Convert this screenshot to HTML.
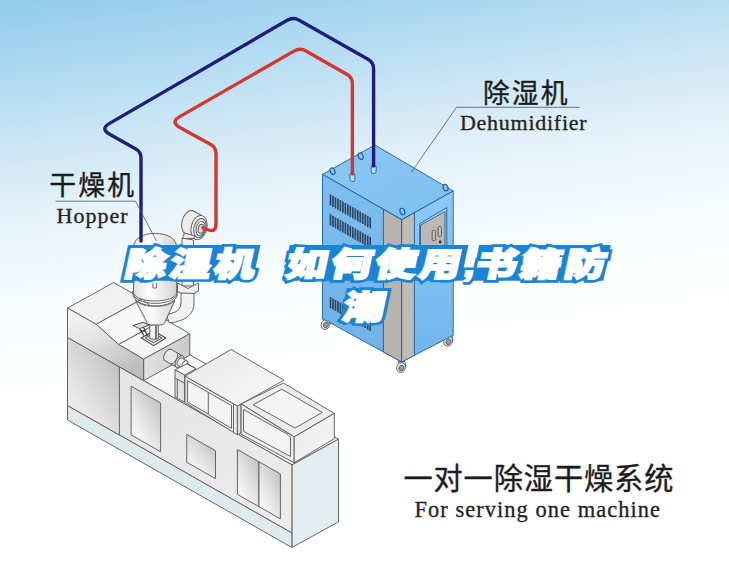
<!DOCTYPE html>
<html lang="zh-CN">
<head>
<meta charset="utf-8">
<title>除湿机 如何使用,书籍防潮</title>
<style>
html,body{margin:0;padding:0;background:#fff;}
body{width:729px;height:561px;overflow:hidden;position:relative;font-family:"Liberation Sans","Noto Sans CJK SC",sans-serif;}
svg{display:block;position:absolute;left:0;top:0;}
.cn{font-family:"Liberation Sans","Noto Sans CJK SC",sans-serif;fill:#1c1c1c;stroke:#1c1c1c;stroke-width:0.35px;}
.en{font-family:"Liberation Serif","Noto Serif CJK SC",serif;fill:#222;stroke:#222;stroke-width:0.3px;}
.ttl{font-family:"Liberation Sans","Noto Sans CJK SC",sans-serif;font-weight:900;fill:#1a85d5;stroke:#1a85d5;stroke-width:7.4px;stroke-linejoin:miter;stroke-miterlimit:1.5;}
.ttw{font-family:"Liberation Sans","Noto Sans CJK SC",sans-serif;font-weight:900;fill:#fff;stroke:#fff;stroke-width:2px;stroke-linejoin:miter;}
.ln{fill:none;stroke:#555;stroke-width:0.8;}
.o{stroke:#5e5e5e;stroke-width:0.95;stroke-linejoin:round;}
.ob{stroke:#1d5d92;stroke-width:0.9;stroke-linejoin:round;}
</style>
</head>
<body>
<svg width="729" height="561" viewBox="0 0 729 561">

<defs>
  <linearGradient id="bgv" gradientUnits="userSpaceOnUse" x1="0" y1="0" x2="54.4" y2="396.3">
    <stop offset="0" stop-color="#91cbeb"/>
    <stop offset="0.152" stop-color="#a8d7f0"/>
    <stop offset="0.352" stop-color="#c9e5f5"/>
    <stop offset="0.552" stop-color="#e6f3fa"/>
    <stop offset="0.776" stop-color="#f8fcfe"/>
    <stop offset="1" stop-color="#ffffff"/>
  </linearGradient>
  <linearGradient id="gHouse" x1="0" y1="0" x2="0.6" y2="1">
    <stop offset="0" stop-color="#f6f6f6"/><stop offset="0.45" stop-color="#e4e4e4"/><stop offset="1" stop-color="#bdbdbd"/>
  </linearGradient>
  <linearGradient id="gPanelL" x1="0.9" y1="0" x2="0.1" y2="1">
    <stop offset="0" stop-color="#b9b9b9"/><stop offset="0.5" stop-color="#dadada"/><stop offset="1" stop-color="#f7f7f7"/>
  </linearGradient>
  <linearGradient id="gLong" x1="0" y1="0" x2="1" y2="1">
    <stop offset="0" stop-color="#e3e3e3"/><stop offset="1" stop-color="#ececec"/>
  </linearGradient>
  <linearGradient id="gDoor" x1="0.85" y1="0" x2="0.15" y2="0.9">
    <stop offset="0" stop-color="#bcbcbc"/><stop offset="0.55" stop-color="#e2e2e2"/><stop offset="1" stop-color="#fbfbfb"/>
  </linearGradient>
  <linearGradient id="gTop" x1="0" y1="0" x2="1" y2="1">
    <stop offset="0" stop-color="#e9e9e9"/><stop offset="1" stop-color="#f8f8f8"/>
  </linearGradient>
  <linearGradient id="gEnd" x1="0" y1="0" x2="1" y2="0">
    <stop offset="0" stop-color="#e2e2e2"/><stop offset="1" stop-color="#c9c9c9"/>
  </linearGradient>
  <linearGradient id="gHop" x1="0" y1="0" x2="1" y2="0">
    <stop offset="0" stop-color="#e2e2e2"/><stop offset="0.35" stop-color="#ffffff"/><stop offset="1" stop-color="#d2d2d2"/>
  </linearGradient>
  <linearGradient id="dTop" x1="0" y1="0" x2="1" y2="1">
    <stop offset="0" stop-color="#8cc7f4"/><stop offset="1" stop-color="#7fbef0"/>
  </linearGradient>
  <linearGradient id="dLeft" x1="0" y1="0" x2="0" y2="1">
    <stop offset="0" stop-color="#7fbdf0"/><stop offset="1" stop-color="#70b1e7"/>
  </linearGradient>
  <linearGradient id="dRight" x1="0" y1="0" x2="0" y2="1">
    <stop offset="0" stop-color="#8fc9f6"/><stop offset="1" stop-color="#6fb5ec"/>
  </linearGradient>
</defs>
<rect x="0" y="0" width="729" height="561" fill="url(#bgv)"/>

<g id="machine" class="o">
<polygon points="67.5,337.4 114.1,311.8 338.5,439.2 291.9,464.9" fill="#f6f6f6"/>
<polygon points="291.9,547.5 338.5,521.8 338.5,439.2 291.9,464.9" fill="#e1edf0"/>
<polygon points="67.5,405.5 291.9,533.0 291.9,464.9 67.5,337.4" fill="url(#gLong)"/>
<polygon points="67.5,420.0 291.9,547.5 291.9,533.0 67.5,405.5" fill="#deeaed"/>
<polygon points="67.5,405.5 119.4,435.0 119.4,366.9 67.5,337.4" fill="url(#gPanelL)"/>
<polygon points="131.1,386.2 160.6,403.0 160.6,451.7 131.1,434.9" fill="url(#gDoor)"/>
<polygon points="186.8,434.4 215.5,450.7 215.5,478.6 186.8,462.3" fill="url(#gDoor)"/>
<polygon points="237.4,449.5 259.0,461.8 259.0,506.7 237.4,494.4" fill="url(#gDoor)"/>
<polygon points="259.0,461.8 280.4,473.9 280.4,518.8 259.0,506.7" fill="url(#gDoor)"/>
<polygon points="67.5,308.0 113.7,282.6 142.4,298.9 96.2,324.3" fill="#f1f1f1"/>
<polygon points="96.2,324.3 142.4,298.9 164.8,319.1 118.6,344.5" fill="#f7f7f7"/>
<polygon points="118.6,344.5 164.8,319.1 189.8,333.8 143.6,359.2" fill="#f4f4f4"/>
<polygon points="143.6,359.2 189.8,333.8 189.8,355.2 143.6,380.6" fill="url(#gEnd)"/>
<polygon points="67.5,308.0 96.2,324.3 118.6,344.5 143.6,359.2 143.6,380.6 67.5,337.4" fill="url(#gHouse)"/>
<ellipse cx="168.1" cy="355.1" rx="3.7" ry="6.4" transform="rotate(29.6 168.1 355.1)" fill="#e6e6e6"/>
<polygon points="171.3,349.5 182.8,356.0 176.4,367.2 164.9,360.7" fill="#e6e6e6" stroke="none"/>
<path d="M171.3 349.5 L182.8 356.0 M164.9 360.7 L176.4 367.2" fill="none"/>
<path d="M176.4 352.5 A3.7 6.4 29.6 0 1 170.1 363.6" fill="none"/>
<path d="M179.3 354.1 A3.7 6.4 29.6 0 1 173.0 365.2" fill="none"/>
<ellipse cx="179.6" cy="361.6" rx="3.7" ry="6.4" transform="rotate(29.6 179.6 361.6)" fill="#f2f2f2"/>
<ellipse cx="180.0" cy="361.8" rx="2.4" ry="4.2" transform="rotate(29.6 180.0 361.8)" fill="#f0f0f0"/>
<polygon points="182.1,358.1 186.9,360.8 182.7,368.2 177.9,365.5" fill="#f0f0f0" stroke="none"/>
<path d="M182.1 358.1 L186.9 360.8 M177.9 365.5 L182.7 368.2" fill="none"/>
<ellipse cx="184.8" cy="364.5" rx="2.4" ry="4.2" transform="rotate(29.6 184.8 364.5)" fill="#fbfbfb"/>
<path d="M186.5 363.2 L195.5 368.3 M185.5 366.5 L193.5 371" fill="none"/>
<polygon points="175.0,369.8 186.8,363.9 196.1,368.8 184.5,375.0" fill="#f5f5f5"/>
<polygon points="175.0,369.8 184.5,375.0 184.5,402.2 175.0,397.0" fill="#e2e2e2"/>
<path d="M175 378 L184.5 383.2 M177.3 379.5 V398.2" fill="none"/>
<polygon points="184.9,376.2 231.1,349.5 284.0,380.2 237.4,406.1" fill="url(#gTop)"/>
<polygon points="184.9,376.2 237.4,406.1 237.4,434.8 184.9,402.4" fill="#ededed"/>
<polygon points="237.4,406.1 241.0,404.2 241.0,433.0 237.4,434.8" fill="#e2e2e2"/>
<path d="M187.4 380.5 L208.3 392.4 V414 L187.4 402 Z M208.3 392.4 L231.5 405.6 V428.5 L208.3 414.5" fill="#f4f4f4"/>
<path d="M233.5 404.2 V432.3" fill="none"/>
<polygon points="241.1,403.9 283.5,383.0 334.3,413.4 294.2,436.9" fill="#ebebeb"/>
<polygon points="253.2,404.8 281.7,389.2 322.2,412.4 295.1,428.0" fill="#f5f5f5"/>
<polygon points="241.1,403.9 294.2,436.9 294.2,462.7 241.1,434.2" fill="#ececec"/>
<polygon points="294.2,436.9 334.3,413.4 334.3,438.7 294.2,462.7" fill="url(#gTop)"/>
<path d="M243.5 409.5 L288 434.5 Q290.5 436 290.5 439 V456.5 L243.5 431.3 Z" fill="#f3f3f3"/>
</g>
<g id="dehum" class="ob">
<g stroke="#555" stroke-width="0.8"><path d="M325.5 324.5 l-3 -6 h7 l1 5 z" fill="#ddd"/><ellipse cx="325.5" cy="324.5" rx="4.3" ry="5" transform="rotate(25 325.5 324.5)" fill="#f2f2f2"/><ellipse cx="326.0" cy="324.8" rx="2.4" ry="3" transform="rotate(25 325.5 324.5)" fill="#999"/></g>
<g stroke="#555" stroke-width="0.8"><path d="M448.1 341.3 l-3 -6 h7 l1 5 z" fill="#ddd"/><ellipse cx="448.1" cy="341.3" rx="4.3" ry="5" transform="rotate(25 448.1 341.3)" fill="#f2f2f2"/><ellipse cx="448.6" cy="341.6" rx="2.4" ry="3" transform="rotate(25 448.1 341.3)" fill="#999"/></g>
<g stroke="#555" stroke-width="0.8"><path d="M401.0 367.6 l-3 -6 h7 l1 5 z" fill="#ddd"/><ellipse cx="401.0" cy="367.6" rx="4.3" ry="5" transform="rotate(25 401.0 367.6)" fill="#f2f2f2"/><ellipse cx="401.5" cy="367.9" rx="2.4" ry="3" transform="rotate(25 401.0 367.6)" fill="#999"/></g>
<polygon points="322.5,174.4 374.9,145.0 453.2,191.0 401.7,219.8" fill="url(#dTop)"/>
<polygon points="322.5,174.4 401.7,219.8 401.7,362.0 322.5,318.6" fill="url(#dLeft)"/>
<polygon points="401.7,219.8 453.2,191.0 453.2,335.2 401.7,362.0" fill="url(#dRight)"/>
<polygon points="383.4,209.3 401.7,219.8 401.7,362.0 383.4,352.0" fill="#b7b3af"/>
<polygon points="401.7,219.8 414.4,212.7 414.4,355.4 401.7,362.0" fill="#bfbbb7"/>
<polygon points="419.7,223.7 446.8,207.5 446.8,254.8 419.7,272.0" fill="#a9d4f5"/>
<polygon points="420.5,225.2 445.0,211.5 445.0,255.9 420.5,271.0" fill="#bcb8b4"/>
<rect x="432.2" y="230.5" width="3.2" height="10" rx="1" fill="#c9c5c1" stroke="#444" stroke-width="0.8"/>
<rect x="438.2" y="226.5" width="3.2" height="10" rx="1" fill="#c9c5c1" stroke="#444" stroke-width="0.8"/>
<circle cx="440.2" cy="242" r="1.4" fill="#333" stroke="none"/>
<path d="M330.50 194.40 v11.2 M332.98 195.82 v11.2 M335.46 197.24 v11.2 M337.94 198.66 v11.2 M340.42 200.09 v11.2 M342.90 201.51 v11.2 M345.38 202.93 v11.2 M347.86 204.35 v11.2 M350.34 205.77 v11.2 M352.82 207.19 v11.2 M355.30 208.62 v11.2 M357.78 210.04 v11.2 M360.26 211.46 v11.2 M362.74 212.88 v11.2 M365.22 214.30 v11.2 M367.70 215.72 v11.2 M370.18 217.15 v11.2" stroke="#2f4864" stroke-width="1.7" fill="none"/>
<path d="M330.50 214.30 v11.2 M332.98 215.72 v11.2 M335.46 217.14 v11.2 M337.94 218.56 v11.2 M340.42 219.99 v11.2 M342.90 221.41 v11.2 M345.38 222.83 v11.2 M347.86 224.25 v11.2 M350.34 225.67 v11.2 M352.82 227.09 v11.2 M355.30 228.52 v11.2 M357.78 229.94 v11.2 M360.26 231.36 v11.2 M362.74 232.78 v11.2 M365.22 234.20 v11.2 M367.70 235.62 v11.2 M370.18 237.05 v11.2" stroke="#2f4864" stroke-width="1.7" fill="none"/>
<path d="M330.50 297.00 v11.2 M332.98 298.42 v11.2 M335.46 299.84 v11.2 M337.94 301.26 v11.2 M340.42 302.69 v11.2 M342.90 304.11 v11.2 M345.38 305.53 v11.2 M347.86 306.95 v11.2 M350.34 308.37 v11.2 M352.82 309.79 v11.2 M355.30 311.22 v11.2 M357.78 312.64 v11.2 M360.26 314.06 v11.2 M362.74 315.48 v11.2 M365.22 316.90 v11.2 M367.70 318.32 v11.2 M370.18 319.75 v11.2" stroke="#2f4864" stroke-width="1.7" fill="none"/>
<ellipse cx="332.5" cy="171.2" rx="2.3" ry="3.4" transform="rotate(-20 332.5 171.2)" fill="#8cc4f1" stroke-width="1.2"/>
<ellipse cx="360.7" cy="156.2" rx="2.3" ry="3.4" transform="rotate(-20 360.7 156.2)" fill="#8cc4f1" stroke-width="1.2"/>
<ellipse cx="445.6" cy="187.6" rx="2.3" ry="3.4" transform="rotate(-20 445.6 187.6)" fill="#8cc4f1" stroke-width="1.2"/>
<ellipse cx="402.4" cy="211.6" rx="2.3" ry="3.4" transform="rotate(-20 402.4 211.6)" fill="#8cc4f1" stroke-width="1.2"/>
<rect x="349.9" y="173" width="5" height="8.5" rx="2" fill="#b9ddf8" stroke-width="0.9"/>
<rect x="371.1" y="165" width="5" height="8.5" rx="2" fill="#b9ddf8" stroke-width="0.9"/>
</g>
<g id="hopper" class="o">
<path d="M182 238 V286 H193.5 V240 Z" fill="#f0f0f0"/>
<path d="M177.5 283 L188 288.5 L198.5 283 V291 L188 297 L177.5 291.5 Z" fill="#ececec"/>
<path d="M181 293 V303 Q181 311 171 313.5 L166 314.5 L169.5 323 Q194 320 194 303 V293.5 Z" fill="#f2f2f2"/>
<g transform="rotate(14 195 225)"><ellipse cx="189.5" cy="224" rx="8" ry="12.3" fill="#ececec"/><path d="M189.5 211.7 L199.5 214.2 V238.8 L189.5 236.3 Z" fill="#ececec" stroke="none"/><path d="M189.5 211.7 L199.5 214.2 M189.5 236.3 L199.5 238.8" fill="none"/><ellipse cx="199.5" cy="226.5" rx="7.8" ry="12.3" fill="#f1f1f1"/><ellipse cx="200.5" cy="226.8" rx="6" ry="9.8" fill="#e6e6e6"/><ellipse cx="201.3" cy="227" rx="4.4" ry="7.2" fill="#f3f3f3"/><ellipse cx="201.8" cy="227.2" rx="2.8" ry="4.6" fill="#e3d6d6"/></g>
<path d="M184.5 233 L182.5 238.5 H193.5 L195 236 Z" fill="#ececec"/>
<path d="M133.6 247 C133.6 238 144 233.4 155.2 233.4 C166.5 233.4 176.7 238 176.7 247 V292 C176.7 297.5 167 301 155.2 301 C143.3 301 133.6 297.5 133.6 292 Z" fill="url(#gHop)"/>
<path d="M132.4 291 C132.4 298.5 142 303.4 155.2 303.4 C168.4 303.4 177.9 298.5 177.9 291" fill="none"/>
<path d="M133 294.5 C134 301 143 306 155.2 306 C167.4 306 176.4 301 177.4 294.5" fill="none"/>
<path d="M135.5 300.3 C140 304.8 147 306.3 155.2 306.3 C163.4 306.3 170.5 304.8 175 300.3 L164.4 323.3 C162 326 149 326 147.4 323.3 Z" fill="url(#gHop)"/>
<path d="M153 283 V288 H156.4 V283" fill="#fff"/>
<polygon points="141.3,338 153.6,331 166,338 153.6,345.6" fill="#f0f0f0" stroke="#444" stroke-width="1.1"/>
<polygon points="145.2,338 153.6,333.2 162,338 153.6,342.8" fill="#d8d8d8" stroke="#444"/>
<path d="M149.8 325.2 V338.4 Q154 340.6 158.3 338.4 V325.2 Z" fill="#f4f4f4"/>
<path d="M156 326 V339" stroke="#555" stroke-width="1.6" fill="none"/>
<path d="M133 325.5 L143 322.3 L149.5 325 L139.5 328.6 Z" fill="#dedede" stroke="#444"/>
<path d="M139.5 328.6 L144 335.5 M143.5 327.2 L147.5 336 M141 330.5 L146 331.5" fill="none" stroke="#333" stroke-width="1.1"/>
</g>
<g id="pipes" fill="none" stroke-linecap="round" stroke-linejoin="round">
  <path d="M141 241 V158 Q141 152 135.8 149.1 L109.7 134.3 Q100.1 128.9 109.6 123.4 L287.2 20.3 Q293.2 16.8 299.2 20.2 L368.4 59.6 Q373.6 62.6 373.6 68.6 V166" stroke="#201e78" stroke-width="3.4"/>
  <path d="M203 227.8 L208.5 230 Q216 232.5 216 224 V153.3 Q216 147.3 210.8 144.4 L179.8 127.4 Q170.2 122.1 179.75 116.6 L294 51.1 Q300 47.6 306 51 L347.2 74.4 Q352.4 77.4 352.4 83.4 V174" stroke="#d2382e" stroke-width="3.4"/>
</g>

<g id="labels">
  <path class="ln" d="M55.5 201.2 H135.5 L156.5 241"/>
  <text class="cn" x="49.2" y="195.3" font-size="26.8" textLength="84.8" lengthAdjust="spacing">干燥机</text>
  <text class="en" x="56.6" y="223" font-size="22" textLength="71" lengthAdjust="spacing">Hopper</text>
  <path class="ln" d="M579.5 107.3 H456.5 L411.5 172"/>
  <text class="cn" x="482.9" y="103.4" font-size="26.8" textLength="84.6" lengthAdjust="spacing">除湿机</text>
  <text class="en" x="460" y="130.4" font-size="22" textLength="126.6" lengthAdjust="spacing">Dehumidifier</text>
  <text class="cn" x="403.4" y="489.2" font-size="29.2" textLength="270" lengthAdjust="spacing">一对一除湿干燥系统</text>
  <text class="en" x="414.4" y="516.7" font-size="22.4" textLength="245.6" lengthAdjust="spacing">For serving one machine</text>
</g>

<g id="title" font-size="33">
<g transform="translate(0,276.4) skewX(-12) scale(1.240,1)">
<rect x="98.4" y="-31.3" width="36.7" height="35.6" fill="#1a85d5"/>
<rect x="134.2" y="-31.3" width="36.7" height="35.6" fill="#1a85d5"/>
<rect x="169.9" y="-31.3" width="34.7" height="35.6" fill="#1a85d5"/>
<rect x="228.3" y="-31.3" width="36.7" height="35.6" fill="#1a85d5"/>
<rect x="264.1" y="-31.3" width="36.7" height="35.6" fill="#1a85d5"/>
<rect x="299.8" y="-31.3" width="36.7" height="35.6" fill="#1a85d5"/>
<rect x="335.7" y="-31.3" width="36.7" height="35.6" fill="#1a85d5"/>
<rect x="381.1" y="-31.3" width="36.7" height="35.6" fill="#1a85d5"/>
<rect x="416.9" y="-31.3" width="36.7" height="35.6" fill="#1a85d5"/>
<rect x="452.6" y="-31.3" width="34.7" height="35.6" fill="#1a85d5"/>
<text class="ttl" y="0" x="99.6 135.4 171.1 211.3 229.5 265.3 301.0 336.9 373.0 382.3 418.1 453.8">除湿机 如何使用,书籍防</text>
<text class="ttw" y="0" x="99.6 135.4 171.1 211.3 229.5 265.3 301.0 336.9 373.0 382.3 418.1 453.8">除湿机 如何使用,书籍防</text>
</g>
<g transform="translate(0,319.2) skewX(-12) scale(1.240,1)">
<rect x="274.3" y="-31.3" width="34.7" height="35.6" fill="#1a85d5"/>
<text class="ttl" y="0" x="275.5">潮</text>
<text class="ttw" y="0" x="275.5">潮</text>
</g>
</g>
</svg>
</body>
</html>
